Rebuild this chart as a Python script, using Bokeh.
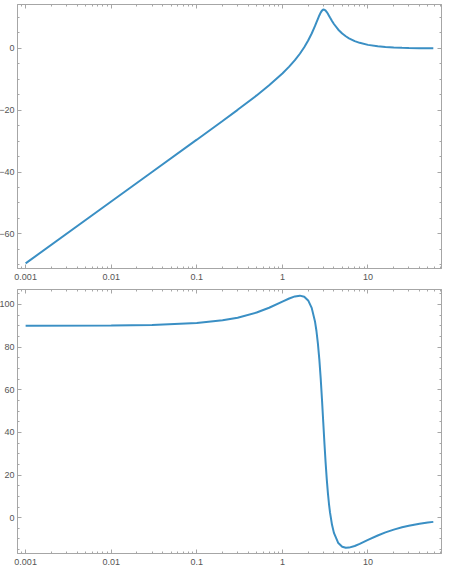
from bokeh.plotting import figure
from bokeh.models import (Range1d, LogAxis, LinearAxis, FixedTicker, SingleIntervalTicker,
                          CustomJSTickFormatter, ColumnDataSource)
from bokeh.layouts import column
from bokeh.embed import file_html
from bokeh.resources import INLINE

# Frequency (rad/s), magnitude (dB), phase (deg)
freq = [0.001, 0.01, 0.03, 0.1, 0.2, 0.3, 0.5, 0.7, 1.0, 1.2, 1.4, 1.6, 1.8,
        2.0, 2.2, 2.4, 2.5, 2.6, 2.7, 2.8, 2.9, 3.0, 3.1, 3.2, 3.3, 3.4, 3.5, 3.6,
        3.8, 4.0, 4.5, 5.0, 5.5, 6.0, 7.0, 8.0, 10, 13, 16, 20, 25, 30, 40, 50, 58]
mag_db = [-69.54, -49.54, -40.00, -29.53, -23.47, -19.87, -15.21, -11.95,
          -8.13, -5.91, -3.80, -1.73, 0.37,
          2.54, 4.81, 7.18, 8.39, 9.56, 10.65, 11.58, 12.23,
          12.55, 12.53, 12.23, 11.75, 11.18, 10.57, 9.97,
          8.86, 7.89, 6.06, 4.81, 3.92, 3.26, 2.36, 1.80,
          1.14, 0.67, 0.44, 0.28, 0.18, 0.125, 0.07, 0.045, 0.034]
phase_deg = [90.01, 90.13, 90.38, 91.27, 92.54, 93.78, 96.19, 98.43,
             101.31, 102.78, 103.77, 104.12, 103.61,
             101.89, 98.38, 92.13, 87.54, 81.65, 74.34, 65.53, 55.53,
             45.0, 34.81, 25.67, 17.93, 11.60, 6.52, 2.46,
             -3.36, -7.13, -11.89, -13.61, -14.10, -14.04, -13.27, -12.28,
             -10.43, -8.35, -6.91, -5.60, -4.52, -3.78, -2.85, -2.28, -1.97]

x_major = [0.001, 0.01, 0.1, 1, 10]
x_minor = [m * d for d in [0.0001, 0.001, 0.01, 0.1, 1, 10] for m in range(2, 10)]

LINE = "#3a8fc4"
FRAME = "#a6a6a6"
LABEL = "#555555"
FONT = "Liberation Sans"

src = ColumnDataSource(dict(f=freq, mag=mag_db, ph=phase_deg))


def style_axis(ax, show_labels=True, standoff=3):
    ax.axis_line_color = FRAME
    ax.major_tick_line_color = FRAME
    ax.minor_tick_line_color = FRAME
    ax.major_tick_in = 4
    ax.major_tick_out = 0
    ax.minor_tick_in = 2
    ax.minor_tick_out = 0
    ax.major_label_text_font = FONT
    ax.major_label_text_font_size = "9px"
    ax.major_label_text_color = LABEL
    ax.major_label_standoff = standoff
    if not show_labels:
        ax.major_label_text_font_size = "1px"
        ax.major_label_text_alpha = 0
        ax.major_label_standoff = 0


def make(ycol, yr, height, bb, xstand):
    p = figure(width=457, height=height, x_axis_type="log",
               x_range=Range1d(10 ** -3.095, 10 ** 1.859), y_range=Range1d(*yr),
               output_backend="svg", toolbar_location=None,
               min_border_left=16, min_border_right=12, min_border_top=5, min_border_bottom=bb)
    p.grid.visible = False
    p.outline_line_color = FRAME
    p.background_fill_color = "white"
    p.border_fill_color = "white"

    xt = FixedTicker(ticks=x_major, minor_ticks=x_minor)
    yt = SingleIntervalTicker(interval=20, num_minor_ticks=4)

    p.xaxis.ticker = xt
    p.xaxis.formatter = CustomJSTickFormatter(code="return String(tick)")
    p.yaxis.ticker = yt
    for ax in p.xaxis:
        style_axis(ax, standoff=xstand)
    for ax in p.yaxis:
        style_axis(ax)

    top = LogAxis(ticker=xt)
    style_axis(top, False)
    p.add_layout(top, "above")
    right = LinearAxis(ticker=yt)
    style_axis(right, False)
    p.add_layout(right, "right")

    p.line(x="f", y=ycol, source=src, line_color=LINE, line_width=2)
    return p


p1 = make("mag", (-71.2, 14.2), 285, 16, 5)
p2 = make("ph", (-16.8, 107.0), 283, 13, 5)

layout = column(p1, p2, margin=(-1, 0, 0, -4))

open("out.html", "w").write(file_html(layout, INLINE))
